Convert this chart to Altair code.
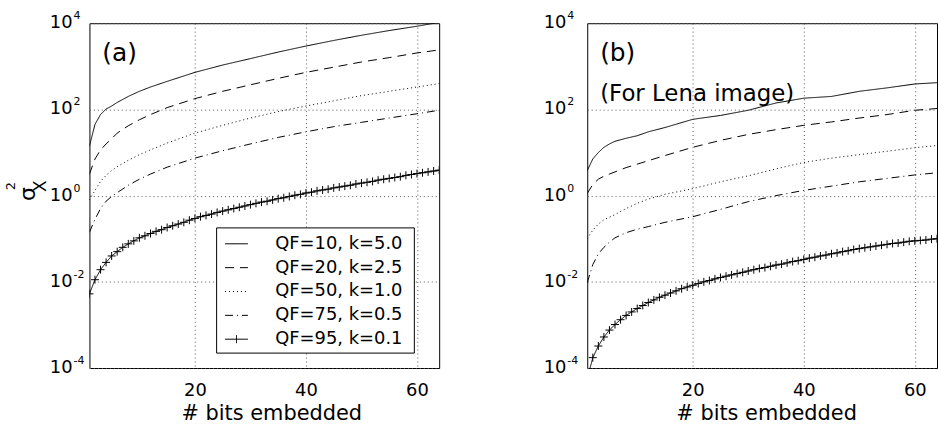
import altair as alt
import pandas as pd

FONT = "DejaVu Sans"

# Curve names (legend entries) and the MATLAB-like line styles used for them
series_names = ["QF=10, k=5.0", "QF=20, k=2.5", "QF=50, k=1.0", "QF=75, k=0.5", "QF=95, k=0.1"]
dash_patterns = [[1, 0], [9, 6], [1, 3], [8, 4, 1, 4], [1, 0]]

x_ticks = [20, 40, 60]
y_ticks = [1e-4, 1e-2, 1, 1e2, 1e4]
y_exponents = ["-4", "-2", "0", "2", "4"]

# Number of embedded bits at which the smooth curves are sampled
bits_coarse = [1, 2, 3, 4, 5, 6, 8, 10, 12, 15, 20, 25, 30, 35, 40, 45, 50, 55, 60, 64]
# The QF=95 curve carries a marker at every bit count
bits_fine = list(range(1, 65))

# ---- panel (a): variance of X ----
a_qf10 = [14, 45, 76, 102, 120, 145, 200, 263, 331, 447,
          724, 1070, 1510, 2140, 2950, 3980, 5250, 6760, 8510, 10500]
a_qf20 = [3.16, 7.08, 11.5, 15.8, 20.9, 28.2, 41.7, 57.5, 75.9, 110,
          178, 263, 372, 525, 724, 955, 1260, 1590, 2040, 2400]
a_qf50 = [0.794, 1.32, 2.14, 2.95, 3.80, 4.68, 6.61, 8.91, 11.5, 16.6,
          28.2, 42.7, 63.1, 89.1, 120, 158, 209, 263, 331, 398]
a_qf75 = [0.141, 0.282, 0.501, 0.741, 0.955, 1.17, 1.74, 2.40, 3.16, 4.57,
          7.41, 11.0, 15.8, 22.4, 30.2, 39.8, 50.1, 63.1, 79.4, 95.5]
a_qf95 = [0.00525, 0.0112, 0.0191, 0.0282, 0.0398, 0.0501, 0.0631, 0.0759,
          0.0891, 0.105, 0.117, 0.132, 0.148, 0.162, 0.182, 0.200,
          0.219, 0.240, 0.269, 0.295, 0.324, 0.347, 0.372, 0.407,
          0.437, 0.468, 0.501, 0.537, 0.575, 0.617, 0.661, 0.708,
          0.741, 0.794, 0.851, 0.891, 0.955, 1.02, 1.07, 1.15,
          1.20, 1.29, 1.35, 1.41, 1.51, 1.58, 1.66, 1.74,
          1.86, 1.95, 2.04, 2.14, 2.29, 2.40, 2.51, 2.63,
          2.75, 2.95, 3.09, 3.24, 3.39, 3.55, 3.72, 3.89]

# ---- panel (b): Lena image ----
b_qf10 = [3.80, 7.08, 10.0, 13.2, 15.8, 18.2, 21.4, 24.5, 30.2, 38.0,
          58.9, 72.4, 95.5, 141, 182, 200, 263, 316, 389, 417]
b_qf20 = [1.12, 1.82, 2.40, 2.82, 3.16, 3.55, 4.47, 5.37, 6.46, 8.51,
          13.2, 19.1, 26.3, 33.9, 42.7, 51.3, 63.1, 75.9, 95.5, 105]
b_qf50 = [0.100, 0.158, 0.219, 0.275, 0.316, 0.363, 0.501, 0.661, 0.832, 1.07,
          1.45, 2.09, 2.88, 4.17, 5.89, 7.41, 8.91, 10.7, 12.9, 14.5]
b_qf75 = [0.00955, 0.0251, 0.0447, 0.0631, 0.0832, 0.105, 0.138, 0.166, 0.191, 0.240,
          0.324, 0.479, 0.724, 1.00, 1.32, 1.66, 2.09, 2.51, 3.02, 3.39]
b_qf95 = [5.6e-5, 1.74e-4, 3.24e-4, 5.25e-4, 7.59e-4, 1.02e-3, 1.32e-3, 1.66e-3,
          2.00e-3, 2.40e-3, 2.82e-3, 3.31e-3, 3.80e-3, 4.37e-3, 4.90e-3, 5.50e-3,
          6.17e-3, 6.92e-3, 7.59e-3, 8.32e-3, 9.12e-3, 1.00e-2, 1.07e-2, 1.17e-2,
          1.26e-2, 1.35e-2, 1.45e-2, 1.55e-2, 1.66e-2, 1.78e-2, 1.91e-2, 2.04e-2,
          2.14e-2, 2.29e-2, 2.45e-2, 2.57e-2, 2.75e-2, 2.95e-2, 3.09e-2, 3.31e-2,
          3.55e-2, 3.72e-2, 3.98e-2, 4.17e-2, 4.47e-2, 4.68e-2, 5.01e-2, 5.25e-2,
          5.62e-2, 5.89e-2, 6.17e-2, 6.46e-2, 6.76e-2, 7.08e-2, 7.41e-2, 7.76e-2,
          7.94e-2, 8.32e-2, 8.71e-2, 8.91e-2, 9.12e-2, 9.33e-2, 9.77e-2, 0.100]


def curve_frame(coarse_curves, marker_curve):
    rows = []
    for name, vals in zip(series_names[:4], coarse_curves):
        for b, v in zip(bits_coarse, vals):
            rows.append({"bits": b, "value": v, "series": name})
    for b, v in zip(bits_fine, marker_curve):
        rows.append({"bits": b, "value": v, "series": series_names[4]})
    return pd.DataFrame(rows)


x_scale = alt.Scale(domain=[1, 64], nice=False, zero=False)
y_scale = alt.Scale(type="log", domain=[1e-4, 1e4], nice=False)
dash_scale = alt.Scale(domain=series_names, range=dash_patterns)
tick_df = pd.DataFrame({"value": y_ticks, "exp": y_exponents})

PLUS = "M-1,0L1,0M0,-1L0,1"
LEGEND_SYMBOL = ("datum.value == 'QF=95, k=0.1' ? 'M-1,0L1,0M0,-0.35L0,0.35' : 'stroke'")

# legend placement inside panel (a), in pixels from the plot's top-left corner
LEG_X, LEG_Y, LEG_W, LEG_H = 128, 206, 199, 126

legend_a = alt.Legend(
    title=None, orient="none", legendX=LEG_X, legendY=LEG_Y,
    symbolType=alt.ExprRef(expr=LEGEND_SYMBOL), symbolSize=529,
    symbolStrokeWidth=1, symbolStrokeColor="black", symbolOffset=4,
    labelFont=FONT, labelFontSize=18, labelColor="black", labelOffset=27,
    labelLimit=300, padding=4, rowPadding=0, clipHeight=24,
)


def text_layer(text, size, x, y, angle=0, align="left"):
    return alt.Chart(pd.DataFrame({"t": [text]})).mark_text(
        align=align, baseline="middle", font=FONT, fontSize=size,
        color="black", angle=angle,
    ).encode(x=alt.value(x), y=alt.value(y), text="t:N")


# white, outlined frame behind the legend entries
legend_frame = alt.Chart(pd.DataFrame({"frame": [0]})).mark_rect(
    fill="white", stroke="black", strokeWidth=1
).encode(
    x=alt.value(LEG_X), x2=alt.value(LEG_X + LEG_W),
    y=alt.value(LEG_Y), y2=alt.value(LEG_Y + LEG_H),
)


def make_panel(df, tag, label_x, title_x, title_y, legend, extras):
    x_enc = alt.X("bits:Q", scale=x_scale,
                  axis=alt.Axis(values=x_ticks, title="# bits embedded",
                                titleX=title_x, titleY=title_y,
                                titleBaseline="alphabetic"))
    y_enc = alt.Y("value:Q", scale=y_scale,
                  axis=alt.Axis(values=y_ticks, labels=False, title=None))
    lines = alt.Chart(df).mark_line(clip=True, strokeWidth=1, color="black").encode(
        x=x_enc, y=y_enc,
        strokeDash=alt.StrokeDash("series:N", scale=dash_scale, legend=legend),
    )
    markers = alt.Chart(df).transform_filter(
        alt.datum.series == series_names[4]
    ).mark_point(shape=PLUS, size=64, filled=False, color="black",
                 strokeWidth=1, opacity=1, clip=True).encode(x=x_enc, y=y_enc)
    tens = alt.Chart(tick_df).mark_text(
        text="10", align="right", baseline="middle", font=FONT, fontSize=18, color="black"
    ).encode(x=alt.value(label_x), y=y_enc)
    powers = alt.Chart(tick_df).mark_text(
        align="left", baseline="middle", font=FONT, fontSize=11, dy=-7, color="black"
    ).encode(x=alt.value(label_x + 1), y=y_enc, text="exp:N")
    layers = [lines, markers, tens, powers, text_layer(tag, 25, 13, 30)] + extras
    return alt.layer(*layers).properties(width=352, height=347)


df_a = curve_frame([a_qf10, a_qf20, a_qf50, a_qf75], a_qf95)
df_b = curve_frame([b_qf10, b_qf20, b_qf50, b_qf75], b_qf95)

# y-axis title sigma^2_X, written bottom-to-top
y_title = [
    text_layer("σ", 22, -62, 172, angle=270, align="center"),
    text_layer("2", 13, -79, 164, angle=270, align="center"),
    text_layer("X", 17, -49, 164, angle=270, align="center"),
]

panel_a = make_panel(df_a, "(a)", -17, 183, 52, legend_a, y_title + [legend_frame])
panel_b = make_panel(df_b, "(b)", -21, 180, 52, None,
                     [text_layer("(For Lena image)", 23, 13, 71)])

chart = alt.hconcat(panel_a, panel_b, spacing=149, bounds="flush").resolve_scale(
    strokeDash="independent"
).resolve_legend(strokeDash="independent").configure(
    padding={"left": 4, "top": 8, "right": 0, "bottom": 0}, font=FONT,
).configure_view(stroke="black", strokeWidth=1).configure_axis(
    domain=False, ticks=False, labelFont=FONT, labelFontSize=18, labelColor="black",
    titleFont=FONT, titleFontSize=21, titleFontWeight="normal", titleColor="black",
    gridColor="#555555", gridDash=[1, 3], gridOpacity=1, gridWidth=1,
).configure_axisX(labelBaseline="alphabetic", labelPadding=28)

chart.save("out.html", embed_options={"renderer": "svg", "actions": False})
